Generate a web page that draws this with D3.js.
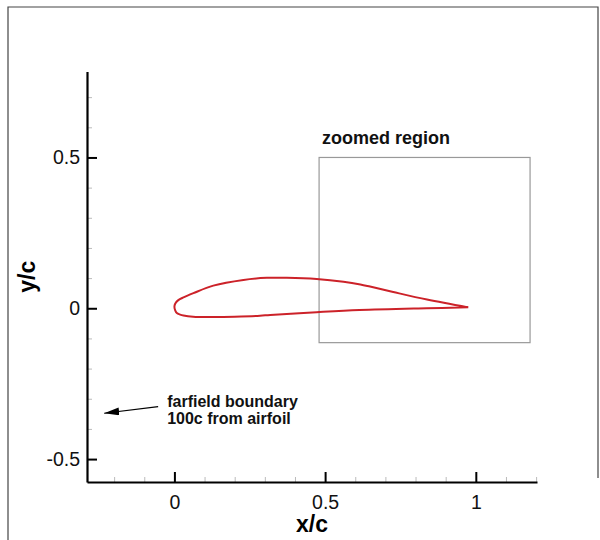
<!DOCTYPE html>
<html>
<head>
<meta charset="utf-8">
<script src="https://cdn.jsdelivr.net/npm/d3@7"></script>
<style>
  body { margin: 0; background: #fff; }
  svg { display: block; font-family: "Liberation Sans", Arial, sans-serif; }
</style>
</head>
<body>
<div id="chart"></div>
<script>
// airfoil surface (x/c, y/c), leading edge -> trailing edge
const upperX = [0, 0.003, 0.013, 0.030, 0.063, 0.129, 0.229, 0.307, 0.373, 0.472, 0.561, 0.617, 0.649, 0.726, 0.838, 0.975];
const upperY = [0.005, 0.016, 0.027, 0.036, 0.050, 0.075, 0.094, 0.101, 0.101, 0.097, 0.088, 0.079, 0.072, 0.054, 0.029, 0.003];
const lowerX = [0, 0.003, 0.008, 0.019, 0.030, 0.062, 0.128, 0.200, 0.284, 0.318, 0.472, 0.614, 0.837, 0.975];
const lowerY = [0.005, -0.008, -0.016, -0.021, -0.024, -0.028, -0.029, -0.028, -0.025, -0.022, -0.013, -0.006, 0.000, 0.003];

const xMajor = [0, 0.5, 1];
const yMajor = [-0.5, 0, 0.5];
const xMinor = [-0.2, -0.1, 0.1, 0.2, 0.3, 0.4, 0.6, 0.7, 0.8, 0.9, 1.1, 1.2];
const yMinor = [-0.4, -0.3, -0.2, -0.1, 0.1, 0.2, 0.3, 0.4, 0.6, 0.7];

// zoomed region box [x0, x1], [y0, y1]
const zoomBoxX = [0.48, 1.18];
const zoomBoxY = [-0.114, 0.5];

// farfield note: text anchor and arrow (tail -> head)
const noteLines = ["farfield boundary", "100c from airfoil"];
const notePos = [-0.024, -0.326];
const arrowFrom = [-0.054, -0.326];
const arrowTo = [-0.233, -0.348];

const width = 600, height = 540;

const x = d3.scaleLinear().domain([-0.29, 1.203]).range([87, 537]);
const y = d3.scaleLinear().domain([-0.576, 0.785]).range([482, 71.5]);

const svg = d3.select("#chart").append("svg")
    .attr("width", width)
    .attr("height", height);

// outer frame (top, left, right)
svg.append("path")
    .attr("d", "M8,540V7H598V478")
    .attr("fill", "none")
    .attr("stroke", "#444")
    .attr("stroke-width", 1.2);

svg.append("defs").append("marker")
    .attr("id", "arrow")
    .attr("markerUnits", "userSpaceOnUse")
    .attr("markerWidth", 16)
    .attr("markerHeight", 10)
    .attr("refX", 15)
    .attr("refY", 4)
    .attr("orient", "auto")
  .append("path")
    .attr("d", "M0,0L15,4L0,8Z")
    .attr("fill", "#000");

// minor ticks
svg.append("g")
    .attr("transform", `translate(0,${y.range()[0]})`)
    .call(d3.axisBottom(x).tickValues(xMinor).tickSize(-5).tickFormat(""))
    .call(g => g.select(".domain").remove())
    .call(g => g.selectAll(".tick line").attr("stroke", "#bbb"));

svg.append("g")
    .attr("transform", `translate(${x.range()[0]},0)`)
    .call(d3.axisLeft(y).tickValues(yMinor).tickSize(-5).tickFormat(""))
    .call(g => g.select(".domain").remove())
    .call(g => g.selectAll(".tick line").attr("stroke", "#bbb"));

// major axes
const label = d => String(d);

svg.append("g")
    .attr("transform", `translate(0,${y.range()[0]})`)
    .call(d3.axisBottom(x).tickValues(xMajor).tickSize(-10).tickSizeOuter(0).tickPadding(13).tickFormat(label))
    .call(g => g.select(".domain").attr("stroke-width", 2.2))
    .call(g => g.selectAll(".tick line").attr("stroke-width", 2))
    .call(g => g.selectAll(".tick text").attr("font-size", 19.5).attr("font-family", null).attr("fill", "#111"));

svg.append("g")
    .attr("transform", `translate(${x.range()[0]},0)`)
    .call(d3.axisLeft(y).tickValues(yMajor).tickSize(-10).tickSizeOuter(0).tickPadding(7).tickFormat(label))
    .call(g => g.select(".domain").attr("stroke-width", 2.2))
    .call(g => g.selectAll(".tick line").attr("stroke-width", 2))
    .call(g => g.selectAll(".tick text").attr("font-size", 19.5).attr("font-family", null).attr("fill", "#111"));

// axis titles
svg.append("text")
    .attr("x", d3.mean(x.range()))
    .attr("y", 532)
    .attr("text-anchor", "middle")
    .attr("font-size", 23)
    .attr("font-weight", "bold")
    .text("x/c");

svg.append("text")
    .attr("transform", `translate(35,${d3.mean(y.range())}) rotate(-90)`)
    .attr("text-anchor", "middle")
    .attr("font-size", 23)
    .attr("font-weight", "bold")
    .text("y/c");

// zoomed region box
svg.append("rect")
    .attr("x", x(zoomBoxX[0]))
    .attr("y", y(zoomBoxY[1]))
    .attr("width", x(zoomBoxX[1]) - x(zoomBoxX[0]))
    .attr("height", y(zoomBoxY[0]) - y(zoomBoxY[1]))
    .attr("fill", "none")
    .attr("stroke", "#999")
    .attr("stroke-width", 1.2);

svg.append("text")
    .attr("x", x(zoomBoxX[0]) + 3)
    .attr("y", y(zoomBoxY[1]) - 13)
    .attr("font-size", 18)
    .attr("font-weight", "bold")
    .attr("fill", "#111")
    .text("zoomed region");

// airfoil outline
const pts = d3.zip(upperX, upperY).reverse().concat(d3.zip(lowerX, lowerY).slice(1));
svg.append("path")
    .datum(pts)
    .attr("fill", "none")
    .attr("stroke", "#cc2229")
    .attr("stroke-width", 2)
    .attr("stroke-linejoin", "round")
    .attr("d", d3.line().x(d => x(d[0])).y(d => y(d[1])).curve(d3.curveCatmullRom));

// farfield note
svg.append("line")
    .attr("x1", x(arrowFrom[0]))
    .attr("y1", y(arrowFrom[1]))
    .attr("x2", x(arrowTo[0]))
    .attr("y2", y(arrowTo[1]))
    .attr("stroke", "#000")
    .attr("stroke-width", 1.2)
    .attr("marker-end", "url(#arrow)");

svg.append("text")
    .attr("x", x(notePos[0]))
    .attr("y", y(notePos[1]))
    .attr("font-size", 16)
    .attr("font-weight", "bold")
    .attr("fill", "#111")
  .selectAll("tspan")
  .data(noteLines)
  .join("tspan")
    .attr("x", x(notePos[0]))
    .attr("dy", (d, i) => i ? 17 : 0)
    .text(d => d);
</script>
</body>
</html>
